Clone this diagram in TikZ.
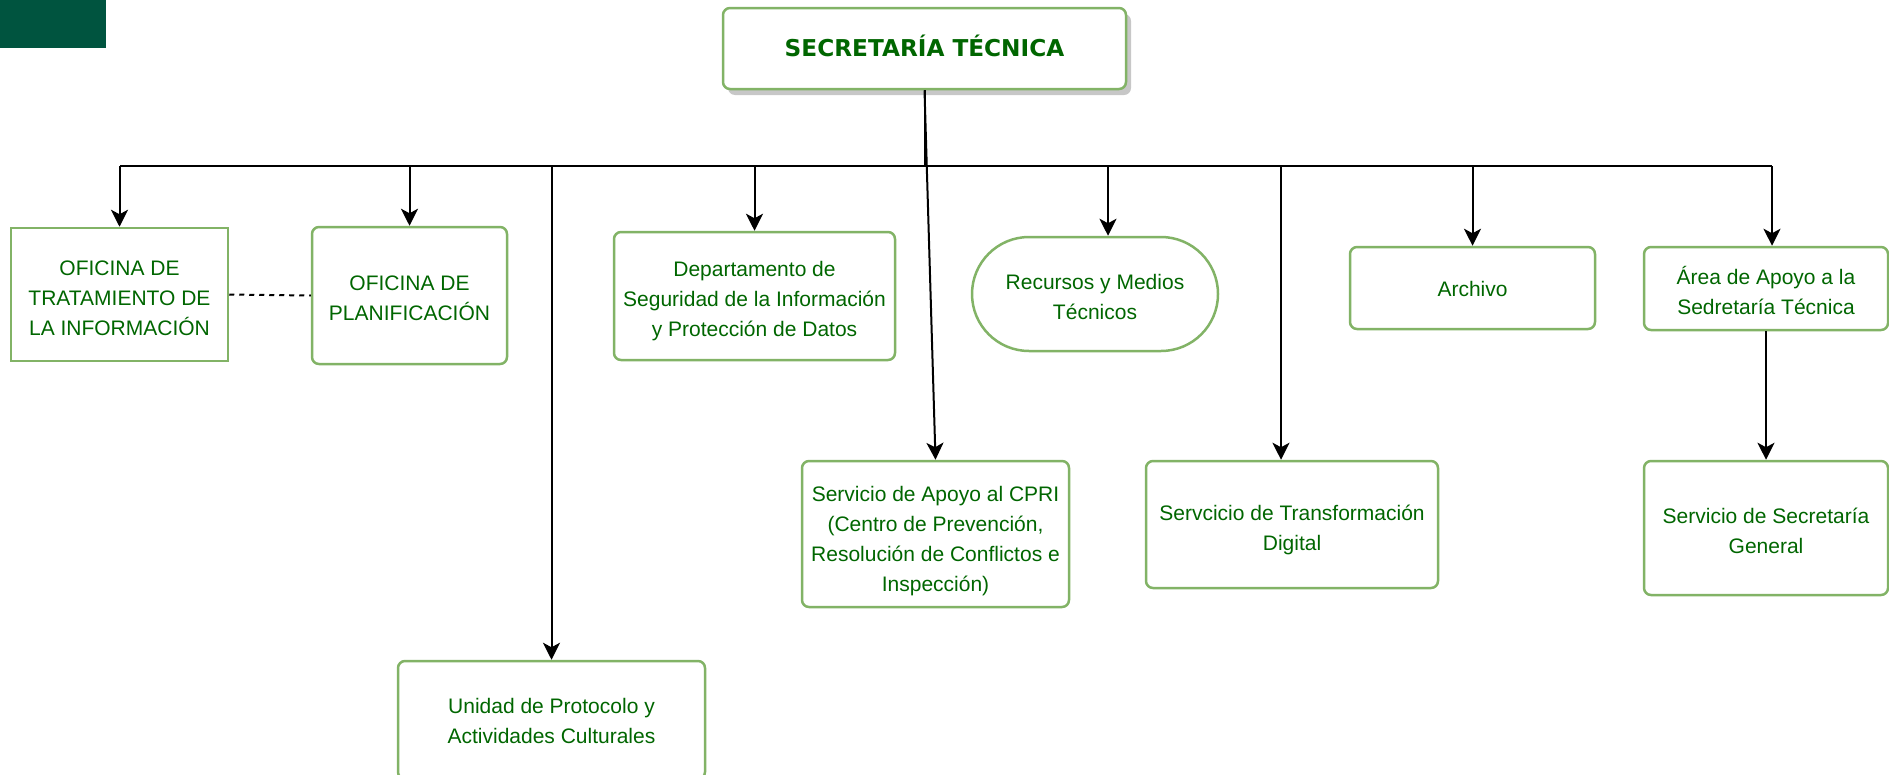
\documentclass[tikz,border=0pt]{standalone}
\usepackage{fontspec}
\setmainfont{Liberation Sans}
\newfontfamily\titlefont{DejaVu Sans}
\usetikzlibrary{arrows.meta,shadows}
\definecolor{boxline}{HTML}{82B366}
\definecolor{boxtext}{HTML}{006600}
\definecolor{corner}{HTML}{00543F}
\begin{document}
\begin{tikzpicture}[x=1pt,y=-1pt,
    unit/.style={draw=boxline,line width=2.5pt,rounded corners=7pt,fill=white,
      text=boxtext,align=center,inner sep=0pt,font=\fontsize{21}{30}\selectfont},
    headroom/.style={execute at begin node={\rule{0pt}{#1pt}}},
    link/.style={line width=2pt,-{Stealth[length=17pt,width=17pt,inset=4.5pt]}}]
  \clip (0,0) rectangle (1889,774);
  \fill[corner] (0,0) rectangle (106,48);
  \draw
    (924.5,48.5) node[unit,minimum width=403,minimum height=81,
      drop shadow={shadow xshift=5pt,shadow yshift=-6pt,fill=black!22,opacity=1},
      font=\fontsize{23.2}{30}\titlefont\bfseries,
      execute at begin node={\rule[-5pt]{0pt}{0pt}}] (st) {SECRETARÍA TÉCNICA}
    (119.5,294.5) node[unit,sharp corners,minimum width=217,minimum height=133,headroom=82] (oti)
      {OFICINA DE\\TRATAMIENTO DE\\LA INFORMACIÓN}
    (409.5,295.5) node[unit,minimum width=195,minimum height=137,headroom=51] (op)
      {OFICINA DE\\PLANIFICACIÓN}
    (754.5,296) node[unit,minimum width=281,minimum height=128,headroom=85] (dep)
      {Departamento de\\Seguridad de la Información\\y Protección de Datos}
    (1095,294) node[unit,rounded corners=57pt,minimum width=246,minimum height=114,headroom=51] (rec)
      {Recursos y Medios\\Técnicos}
    (1472.5,288) node[unit,minimum width=245,minimum height=82,headroom=18] (arc) {Archivo}
    (1766,288.5) node[unit,minimum width=244,minimum height=83,headroom=53] (area)
      {Área de Apoyo a la\\Sedretaría Técnica}
    (935.5,534) node[unit,minimum width=267,minimum height=146,headroom=119.5] (cpri)
      {Servicio de Apoyo al CPRI\\(Centro de Prevención,\\Resolución de Conflictos e\\Inspección)}
    (1292,524.5) node[unit,minimum width=292,minimum height=127,headroom=56] (tdig)
      {Servcicio de Transformación\\Digital}
    (1766,528) node[unit,minimum width=244,minimum height=134,headroom=51] (sgen)
      {Servicio de Secretaría\\General}
    (551.5,720) node[unit,minimum width=307,minimum height=118,headroom=48] (upac)
      {Unidad de Protocolo y\\Actividades Culturales};
  \coordinate (busl) at (120,166);
  \coordinate (busr) at (1772,166);
  \coordinate (recin) at ([xshift=13pt]rec.north);
  \coordinate (tdigin) at ([xshift=-11pt]tdig.north);
  \coordinate (areain) at ([xshift=6pt]area.north);
  \begin{scope}[line width=2pt]
    \draw (st.south) -- (st.south |- busl);
    \draw (busl) -- (busr);
    \draw[link] (oti.north |- busl) -- (oti.north);
    \draw[link] (op.north |- busl) -- (op.north);
    \draw[link] (upac.north |- busl) -- (upac.north);
    \draw[link] (dep.north |- busl) -- (dep.north);
    \draw[link] (st.south) -- (cpri.north);
    \draw[link] (recin |- busl) -- (recin);
    \draw[link] (tdigin |- busl) -- (tdigin);
    \draw[link] (arc.north |- busl) -- (arc.north);
    \draw[link] (areain |- busl) -- (areain);
    \draw[link] (area) -- (sgen);
    \draw[dash pattern=on 5pt off 5pt] (oti.east) -- (op.west);
  \end{scope}
\end{tikzpicture}
\end{document}
